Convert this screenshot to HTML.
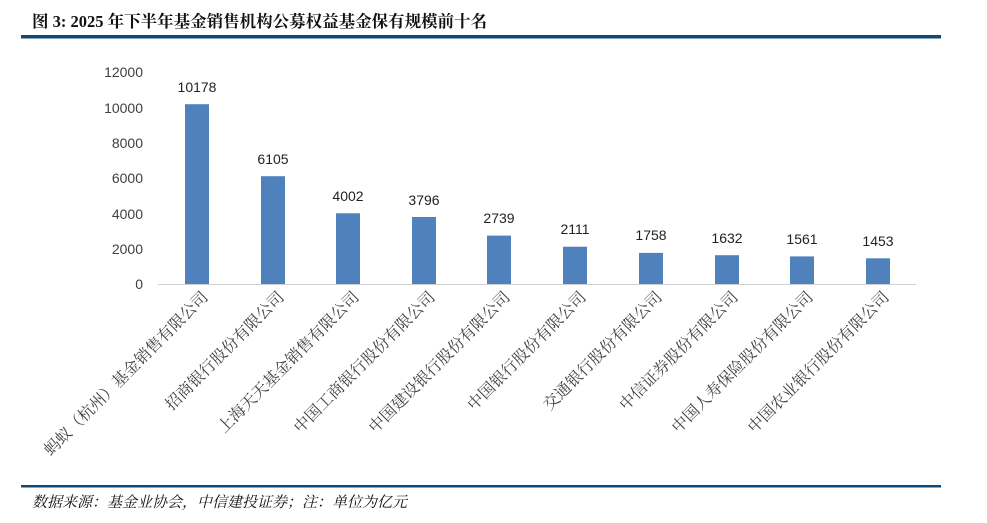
<!DOCTYPE html>
<html><head><meta charset="utf-8"><style>
body{margin:0;background:#fff;width:987px;height:523px;overflow:hidden}
</style></head><body>
<svg width="987" height="523" xmlns="http://www.w3.org/2000/svg" style="position:absolute;left:0;top:0">
<text x="32" y="27" font-family="Liberation Serif, Noto Serif CJK SC, serif" font-weight="bold" font-size="16.5" fill="#111">图 3: 2025 年下半年基金销售机构公募权益基金保有规模前十名</text>
<rect x="21" y="35" width="920" height="3.5" fill="#0f4a78"/>
<g font-family="Liberation Sans, Noto Sans CJK SC, sans-serif" font-size="14" fill="#404040" text-anchor="end">
<text x="143" y="77">12000</text>
<text x="143" y="113">10000</text>
<text x="143" y="148">8000</text>
<text x="143" y="183">6000</text>
<text x="143" y="219">4000</text>
<text x="143" y="254">2000</text>
<text x="143" y="289">0</text>
</g>
<line x1="158" y1="284.5" x2="916" y2="284.5" stroke="#d0d0d0" stroke-width="1"/>
<g fill="#4f81bd">
<rect x="185" y="104.2" width="24" height="179.8"/>
<rect x="261" y="176.2" width="24" height="107.8"/>
<rect x="336" y="213.3" width="24" height="70.7"/>
<rect x="412" y="217" width="24" height="67"/>
<rect x="487" y="235.6" width="24" height="48.4"/>
<rect x="563" y="246.7" width="24" height="37.3"/>
<rect x="639" y="252.9" width="24" height="31.1"/>
<rect x="715" y="255.2" width="24" height="28.8"/>
<rect x="790" y="256.4" width="24" height="27.6"/>
<rect x="866" y="258.3" width="24" height="25.7"/>
</g>
<g font-family="Liberation Sans, sans-serif" font-size="14" fill="#222" text-anchor="middle">
<text x="197" y="92">10178</text>
<text x="273" y="164">6105</text>
<text x="348" y="201">4002</text>
<text x="424" y="205">3796</text>
<text x="499" y="223">2739</text>
<text x="575" y="234">2111</text>
<text x="651" y="240">1758</text>
<text x="727" y="243">1632</text>
<text x="802" y="244">1561</text>
<text x="878" y="246">1453</text>
</g>
<g font-family="Liberation Serif, Noto Serif CJK SC, serif" font-size="16" fill="#404040" text-anchor="end">
<text transform="translate(209,298) rotate(-45)">蚂蚁（杭州）基金销售有限公司</text>
<text transform="translate(285,298) rotate(-45)">招商银行股份有限公司</text>
<text transform="translate(360,298) rotate(-45)">上海天天基金销售有限公司</text>
<text transform="translate(436,298) rotate(-45)">中国工商银行股份有限公司</text>
<text transform="translate(511,298) rotate(-45)">中国建设银行股份有限公司</text>
<text transform="translate(587,298) rotate(-45)">中国银行股份有限公司</text>
<text transform="translate(663,298) rotate(-45)">交通银行股份有限公司</text>
<text transform="translate(739,298) rotate(-45)">中信证券股份有限公司</text>
<text transform="translate(814,298) rotate(-45)">中国人寿保险股份有限公司</text>
<text transform="translate(890,298) rotate(-45)">中国农业银行股份有限公司</text>
</g>
<rect x="21" y="485" width="920" height="2.5" fill="#0f4a78"/>
<text x="32" y="507" font-family="Liberation Serif, Noto Serif CJK SC, serif" font-style="italic" font-size="15" fill="#111">数据来源：基金业协会，中信建投证券；注：单位为亿元</text>
</svg>
</body></html>
